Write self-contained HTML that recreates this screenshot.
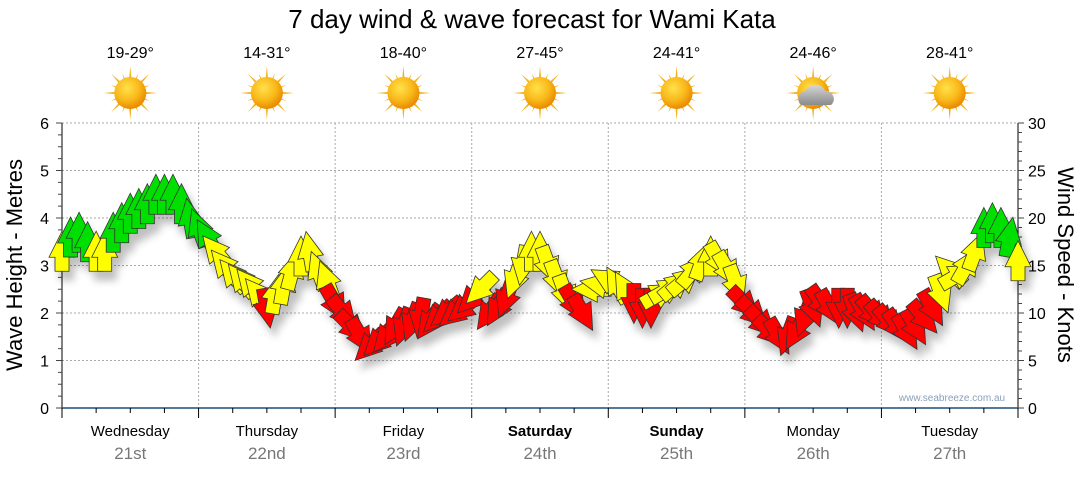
<!DOCTYPE html>
<html><head><meta charset="utf-8">
<style>
html,body{margin:0;padding:0;background:#fff;}
body{width:1080px;height:475px;overflow:hidden;font-family:"Liberation Sans",sans-serif;}
svg text{font-family:"Liberation Sans",sans-serif;}
</style></head>
<body>
<svg id="chart" width="1080" height="475" viewBox="0 0 1080 475" xmlns="http://www.w3.org/2000/svg">
<defs>
  <filter id="shadow" x="-50%" y="-50%" width="200%" height="200%">
    <feGaussianBlur in="SourceAlpha" stdDeviation="4"/>
    <feOffset dx="5" dy="9" result="o"/>
    <feComponentTransfer><feFuncA type="linear" slope="0.25"/></feComponentTransfer>
    <feMerge><feMergeNode/><feMergeNode in="SourceGraphic"/></feMerge>
  </filter>
  <radialGradient id="sunGrad" cx="0.4" cy="0.35" r="0.65">
    <stop offset="0" stop-color="#ffe14a"/><stop offset="0.6" stop-color="#f9b81a"/><stop offset="1" stop-color="#e98a00"/>
  </radialGradient>
  <linearGradient id="cloudGrad" x1="0" y1="0" x2="0" y2="1">
    <stop offset="0" stop-color="#d8d8d8"/><stop offset="1" stop-color="#8a8a8a"/>
  </linearGradient>
</defs>
<text x="532" y="28" font-size="26" text-anchor="middle" fill="#000">7 day wind &amp; wave forecast for Wami Kata</text>
<g id="weather"></g>
<g id="grid"></g>
<g id="axes"></g>
<g id="arrows" filter="url(#shadow)"></g>
<text x="952" y="401" font-size="10" text-anchor="middle" fill="#8aa0b8">www.seabreeze.com.au</text>
<text transform="translate(22,265) rotate(-90)" font-size="22" text-anchor="middle" fill="#000">Wave Height - Metres</text>
<text transform="translate(1058,265) rotate(90)" font-size="22" text-anchor="middle" fill="#000">Wind Speed - Knots</text>
</svg>
<script>
const dayNames = ["Wednesday","Thursday","Friday","Saturday","Sunday","Monday","Tuesday"];
const dayDates = ["21st","22nd","23rd","24th","25th","26th","27th"];
const boldDays = [false,false,false,true,true,false,false];
const temps = ["19-29°","14-31°","18-40°","27-45°","24-41°","24-46°","28-41°"];
const cloudy = [false,false,false,false,false,true,false];
const leftTicks = [0,1,2,3,4,5,6];
const rightTicks = [0,5,10,15,20,25,30];
const hours = [0,1.5,3,4.5,6,7.5,9,10.5,12,13.5,15,16.5,18,19.5,21,22.5,
 24,25.5,27,28.5,30,31.5,33,34.5,36,37.5,39,40.5,42,43.5,45,46.5,
 48,49.5,51,52.5,54,55.5,57,58.5,60,61.5,63,64.5,66,67.5,69,70.5,
 72,73.5,75,76.5,78,79.5,81,82.5,84,85.5,87,88.5,90,91.5,93,94.5,
 96,97.5,99,100.5,102,103.5,105,106.5,108,109.5,111,112.5,114,115.5,117,118.5,
 120,121.5,123,124.5,126,127.5,129,130.5,132,133.5,135,136.5,138,139.5,141,142.5,
 144,145.5,147,148.5,150,151.5,153,154.5,156,157.5,159,160.5,162,163.5,165,166.5,168];
const knots = [16.5,18,18.5,17.5,16.5,16.5,18.5,19.5,20.5,21,21.5,22.5,22.5,22.5,21.5,20,
 19,18,16.5,15,14,13.5,13,12,10.5,12,13,14.5,16,16.5,14.5,13.5,
 11,10,8.5,7.5,6.5,7,7.5,8.5,8.5,9,9.5,9,9.5,10,10,10.5,
 11.5,12.5,10,10.5,11.5,13.5,15,16.5,16.5,15,13.5,12,11,10,12.5,13,
 13.5,13,12.5,11,10.5,10.5,12,12.5,13,13.5,14.5,15.5,16,15.5,14.5,13,
 11,10,9,8,7.5,7.5,8,9.5,10.5,11,10.5,10.5,10.5,10,10,10,
 9.5,9,8.5,8,8.5,9.5,10.5,12,14.5,14,15,16.5,19,19.5,19,18,15.5];
const dirs = [0,0,0,0,0,0,0,0,0,0,0,0,0,0,0,-10,
 -20,-30,-40,-40,-40,-40,-40,-40,170,10,10,15,0,-10,-20,-20,
 150,140,135,150,225,225,220,210,200,200,190,215,225,230,230,230,
 225,225,215,210,200,200,190,0,0,160,160,160,150,150,270,280,
 300,330,330,180,180,180,60,60,50,50,40,20,0,150,150,160,
 135,135,135,135,150,200,210,200,160,145,150,180,180,160,150,140,
 140,140,145,150,150,140,150,160,315,60,30,20,0,0,0,10,0];

const X0=62, X1=1018, YB=408, YT=123;
const xOf = h => X0 + h/168*(X1-X0);
const yM = m => YB - m/6*(YB-YT);
const yK = k => YB - k/30*(YB-YT);
const NS="http://www.w3.org/2000/svg";
function mk(tag, attrs, parent){const e=document.createElementNS(NS,tag);for(const k in attrs)e.setAttribute(k,attrs[k]);parent.appendChild(e);return e;}
const grid=document.getElementById('grid'), axes=document.getElementById('axes'), arrows=document.getElementById('arrows'), weather=document.getElementById('weather');

leftTicks.forEach(t=>{ if(t>0){const l=mk('line',{x1:X0,x2:X1,y1:yM(t),y2:yM(t),stroke:'#aaa','stroke-dasharray':'2,2','stroke-width':1},grid);

}});
for(let d=1;d<7;d++){const l=mk('line',{x1:xOf(d*24),x2:xOf(d*24),y1:YT,y2:YB,stroke:'#aaa','stroke-dasharray':'2,2','stroke-width':1},grid);

}

let a=mk('line',{x1:X0,x2:X0,y1:YT,y2:YB,stroke:'#000'},axes);


a=mk('line',{x1:X1,x2:X1,y1:YT,y2:YB,stroke:'#000'},axes);


a=mk('line',{x1:X0,x2:X1,y1:YB,y2:YB,stroke:'#1a4f7a','stroke-width':1.5},axes);


for(let i=0;i<=24;i++){const m=i*0.25;const len=(i%4==0)?6:4;mk('line',{x1:X0-len,x2:X0,y1:yM(m),y2:yM(m),stroke:'#444'},axes);}
for(let k=0;k<=30;k++){const len=(k%5==0)?6:4;mk('line',{x1:X1,x2:X1+len,y1:yK(k),y2:yK(k),stroke:'#444'},axes);}
leftTicks.forEach(t=>{const e=mk('text',{x:49,y:yM(t)+6,'font-size':16,'text-anchor':'end',fill:'#000'},axes);e.textContent=t;

});
rightTicks.forEach(t=>{const e=mk('text',{x:1028,y:yK(t)+6,'font-size':16,'text-anchor':'start',fill:'#000'},axes);e.textContent=t;

});
for(let q=0;q<=28;q++){const x=xOf(q*6);const len=(q%4==0)?10:5;mk('line',{x1:x,x2:x,y1:YB,y2:YB+len,stroke:'#000'},axes);}
dayNames.forEach((n,i)=>{const cx=xOf(i*24+12);
 let e=mk('text',{x:cx,y:436,'font-size':15,'text-anchor':'middle',fill:'#000','font-weight':boldDays[i]?'bold':'normal'},axes);e.textContent=n;
 
 
 e=mk('text',{x:cx,y:459,'font-size':17,'text-anchor':'middle',fill:'#777'},axes);e.textContent=dayDates[i];
 
 
 e=mk('text',{x:cx,y:58,'font-size':16,'text-anchor':'middle',fill:'#000'},weather);e.textContent=temps[i];
 
 
 const g=mk('g',{transform:`translate(${cx},93)`},weather);
 
 
 for(let r=0;r<16;r++){const ang=r*22.5;const L=(r%2==0)?27:21;
  mk('polygon',{points:`-2.5,0 2.5,0 0,-${L}`,fill:'#f2b21c',transform:`rotate(${ang})`},g);}
 mk('circle',{r:16,fill:'url(#sunGrad)'},g);
 if(cloudy[i]){mk('path',{d:'M-12,12 a8,8 0 0 1 4,-14 a11,11 0 0 1 20,0 a8,8 0 0 1 6,14 z',fill:'url(#cloudGrad)'},g);}
});

function colorOf(k){return k>=17.5?'#00e000':(k>=12?'#ffff00':'#ff0000');}
hours.forEach((h,i)=>{
 const k=knots[i], d=dirs[i];
 const p=mk('polygon',{points:'-7,20 7,20 7,6 13,6 0,-20 -13,6 -7,6',fill:colorOf(k),stroke:'#333','stroke-width':0.8,
   transform:`translate(${xOf(h)},${yK(k)}) rotate(${d})`},arrows);
 
 
});
</script>
</body></html>
